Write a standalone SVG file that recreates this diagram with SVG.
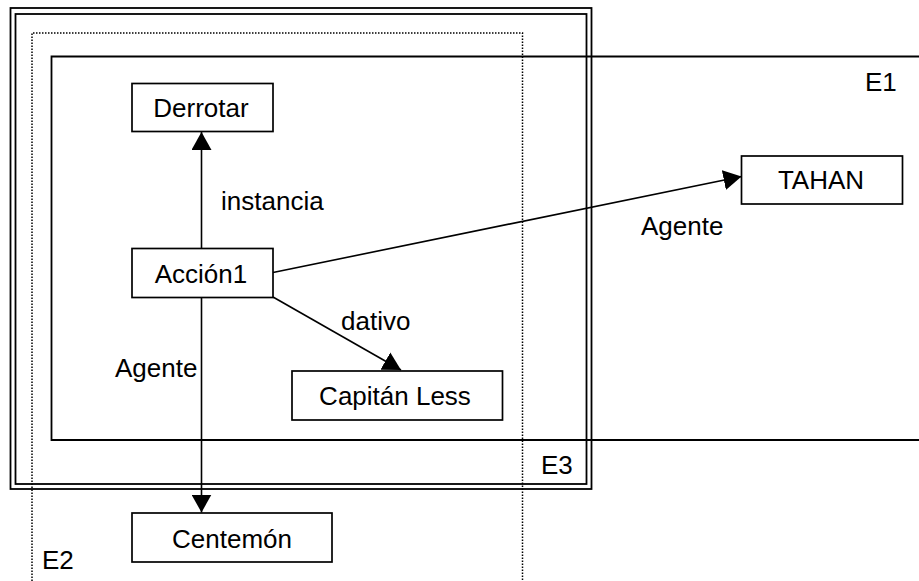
<svg xmlns="http://www.w3.org/2000/svg" width="919" height="581" viewBox="0 0 919 581">
<style>
.frame{fill:none;stroke:#000;stroke-width:1.8}
.dot{fill:none;stroke:#000;stroke-width:1.5;stroke-dasharray:1.5 1.5}
.box{fill:#fff;stroke:#000;stroke-width:1.7}
.edge{fill:none;stroke:#000;stroke-width:1.6}
text{font-family:"Liberation Sans",Arial,sans-serif;font-size:26px;fill:#000}
.c{text-anchor:middle}
</style>
<defs>
<marker id="arr" markerUnits="userSpaceOnUse" markerWidth="20" markerHeight="20" refX="18" refY="10" orient="auto">
<path d="M0,0 L18,10 L0,20 Z" fill="#000"/>
</marker>
</defs>
<rect width="919" height="581" fill="#fff"/>
<g id="E3">
<rect class="frame" x="10.5" y="8" width="581" height="481"/>
<rect class="frame" x="15.5" y="14" width="571" height="470"/>
<text x="541" y="474">E3</text>
</g>
<g id="E2">
<path class="dot" d="M32,590 V33 H522.5 V590"/>
<text x="42" y="569">E2</text>
</g>
<g id="E1">
<path class="frame" d="M920,56.5 H51.5 V440 H920"/>
<text x="865" y="91">E1</text>
</g>
<g id="connectors">
<line class="edge" x1="201.5" y1="248" x2="201.5" y2="132" marker-end="url(#arr)"/>
<line class="edge" x1="273" y1="272.5" x2="741.5" y2="176.5" marker-end="url(#arr)"/>
<line class="edge" x1="273" y1="297" x2="401" y2="370" marker-end="url(#arr)"/>
<line class="edge" x1="201.5" y1="297" x2="201.5" y2="512.5" marker-end="url(#arr)"/>
<text x="221" y="210">instancia</text>
<text x="641" y="235">Agente</text>
<text x="341" y="330">dativo</text>
<text x="115" y="377">Agente</text>
</g>
<g id="Derrotar">
<rect class="box" x="132" y="83.5" width="141" height="48"/>
<text class="c" x="201" y="117">Derrotar</text>
</g>
<g id="Accion1">
<rect class="box" x="132" y="248.5" width="141" height="49"/>
<text class="c" x="201" y="283">Acción1</text>
</g>
<g id="TAHAN">
<rect class="box" x="741.5" y="156" width="161" height="48"/>
<text class="c" x="821" y="189">TAHAN</text>
</g>
<g id="CapitanLess">
<rect class="box" x="292" y="371" width="210.5" height="49"/>
<text class="c" x="395" y="405">Capitán Less</text>
</g>
<g id="Centemon">
<rect class="box" x="132" y="513" width="200" height="49"/>
<text class="c" x="232" y="548">Centemón</text>
</g>
</svg>
